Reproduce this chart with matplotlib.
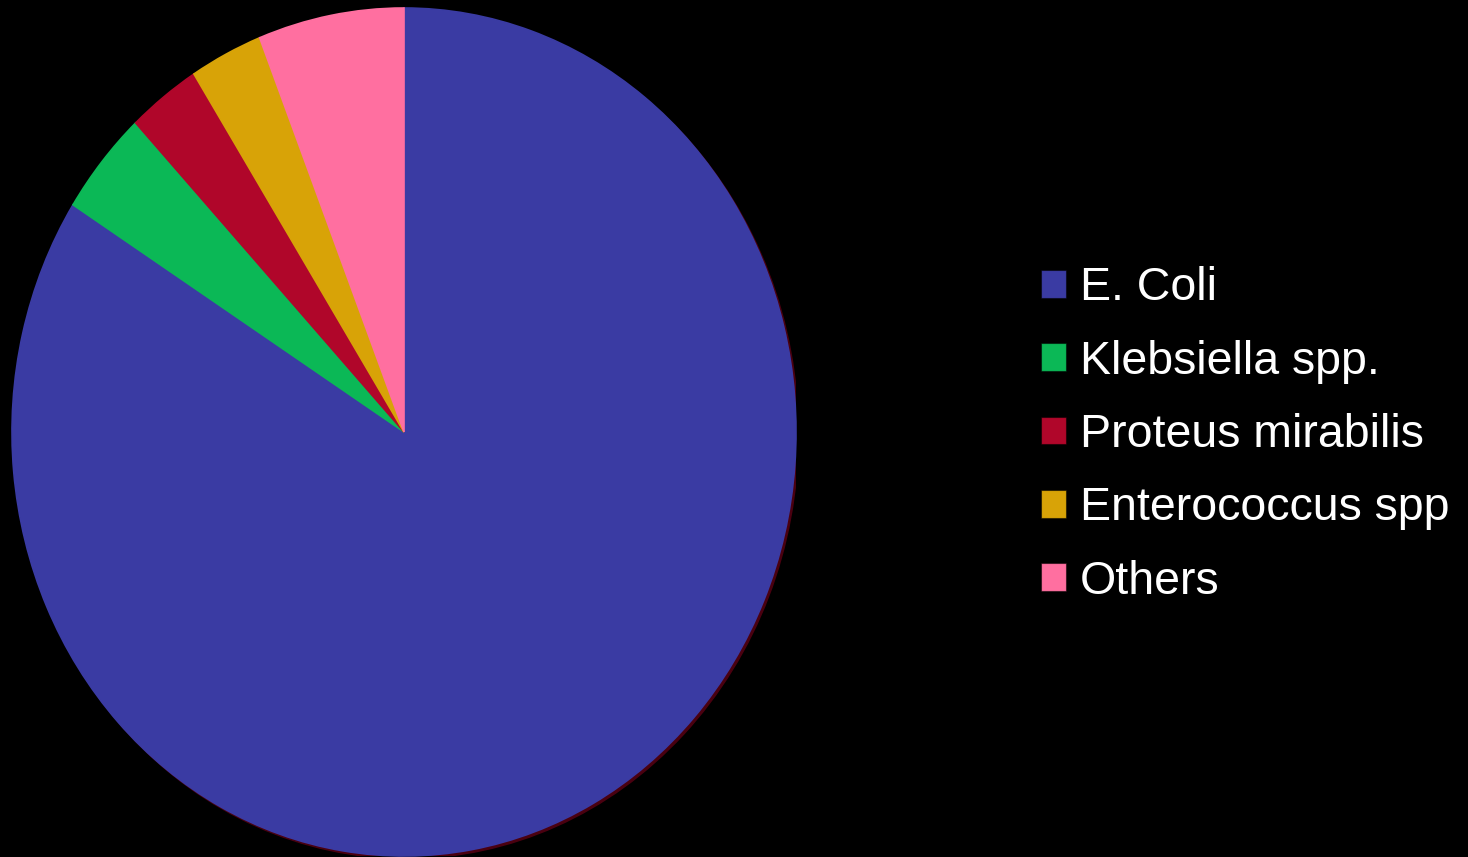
import matplotlib.pyplot as plt
from matplotlib.patches import Patch, Ellipse

# data (percent)
labels = ["E. Coli", "Klebsiella spp.", "Proteus mirabilis", "Enterococcus spp", "Others"]
values = [84, 4, 3, 3, 6]
colors = ["#3A3BA3", "#0BB856", "#B0062A", "#D8A307", "#FF6FA0"]

plt.rcParams['font.family'] = ['Liberation Sans', 'DejaVu Sans']

fig = plt.figure(figsize=(14.68, 8.57), dpi=100, facecolor="black")
# pie area in pixels: x 12..796, y 8..856 (slightly taller than wide)
ax = fig.add_axes([12 / 1468, 1 / 857, 784 / 1468, 848 / 857])
ax.set_facecolor("black")

# soft dark-red rim at the lower right
ax.add_patch(Ellipse((0.006, -0.006), 2.0, 2.0, color="#4a0010", zorder=0))

wedges, _ = ax.pie(values, colors=colors, startangle=90, counterclock=False,
                   radius=1.0, wedgeprops=dict(linewidth=1.2))
for w, c in zip(wedges, colors):
    w.set_edgecolor(c)
    w.set_zorder(2)

ax.set_aspect("auto")
ax.set_xlim(-1.0, 1.0)
ax.set_ylim(-1.0, 1.0)
ax.axis("off")

handles = [Patch(facecolor=c, edgecolor="#00000080", linewidth=0.8) for c in colors]
leg = fig.legend(handles, labels, loc="center left",
                 bbox_to_anchor=(1041 / 1468, (857 - 435) / 857),
                 frameon=False, fontsize=33.5, labelcolor="white",
                 handlelength=0.54, handleheight=0.54, handletextpad=0.3,
                 labelspacing=0.63, borderpad=0, borderaxespad=0)

fig.savefig("out.png", dpi=100, facecolor="black")
